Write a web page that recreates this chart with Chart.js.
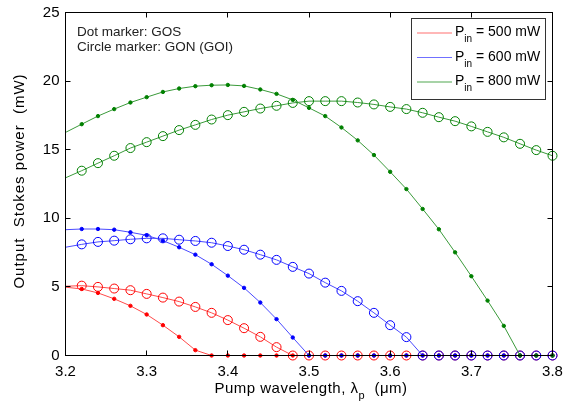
<!DOCTYPE html>
<html>
<head>
<meta charset="utf-8">
<script src="https://cdn.jsdelivr.net/npm/chart.js@4.4.0/dist/chart.umd.min.js"></script>
<style>
  html, body { margin: 0; padding: 0; background: #fff; }
</style>
</head>
<body>
<canvas id="stokes" width="564" height="409"></canvas>
<script>
// pump wavelength grid (um), one marker every 0.02
const lambdaP = [3.20, 3.22, 3.24, 3.26, 3.28, 3.30, 3.32, 3.34, 3.36, 3.38,
                 3.40, 3.42, 3.44, 3.46, 3.48, 3.50, 3.52, 3.54, 3.56, 3.58,
                 3.60, 3.62, 3.64, 3.66, 3.68, 3.70, 3.72, 3.74, 3.76, 3.78, 3.80];

// output Stokes power (mW) - GOS (dots) and GON/GOI (circles)
const gos500 = [4.98, 4.85, 4.56, 4.13, 3.62, 2.99, 2.21, 1.36, 0.39, 0,
                0, 0, 0, 0, 0, 0, 0, 0, 0, 0,
                0, 0, 0, 0, 0, 0, 0, 0, 0, 0, 0];
const gon500 = [5.05, 5.09, 5.00, 4.88, 4.76, 4.49, 4.22, 3.93, 3.54, 3.11,
                2.58, 1.99, 1.36, 0.61, 0, 0, 0, 0, 0, 0,
                0, 0, 0, 0, 0, 0, 0, 0, 0, 0, 0];
const gos600 = [9.17, 9.22, 9.22, 9.17, 8.98, 8.76, 8.37, 7.89, 7.35, 6.65,
                5.82, 4.93, 3.86, 2.65, 1.31, 0, 0, 0, 0, 0,
                0, 0, 0, 0, 0, 0, 0, 0, 0, 0, 0];
const gon600 = [7.89, 8.10, 8.28, 8.37, 8.47, 8.54, 8.54, 8.44, 8.35, 8.22,
                7.98, 7.71, 7.35, 6.97, 6.46, 5.97, 5.31, 4.71, 3.96, 3.11,
                2.21, 1.34, 0, 0, 0, 0, 0, 0, 0, 0, 0];
const gos800 = [16.26, 16.86, 17.45, 17.96, 18.44, 18.83, 19.21, 19.46, 19.63, 19.70,
                19.72, 19.65, 19.39, 19.07, 18.63, 18.05, 17.45, 16.62, 15.68, 14.61,
                13.39, 12.13, 10.68, 9.20, 7.52, 5.78, 4.00, 2.16, 0, 0, 0];
const gon800 = [12.95, 13.47, 14.02, 14.56, 15.12, 15.55, 15.99, 16.43, 16.81, 17.20,
                17.52, 17.76, 18.00, 18.20, 18.41, 18.54, 18.54, 18.54, 18.44, 18.30,
                18.12, 17.96, 17.69, 17.37, 17.08, 16.70, 16.30, 15.90, 15.43, 14.97, 14.56];

const xTicks = [3.2, 3.3, 3.4, 3.5, 3.6, 3.7, 3.8];
const yTicks = [0, 5, 10, 15, 20, 25];
const legendPowers = ['500', '600', '800'];

// marker colours and the softer line colours
const RED = ['#ff0000', '#ff4a4a'];
const BLUE = ['#0000ff', '#4a4aff'];
const GREEN = ['#008000', '#3a9a3a'];
const FONT = '"Liberation Sans", Arial, sans-serif';

const pts = arr => arr.map((v, i) => ({ x: lambdaP[i], y: v }));
// no marker on the first sample (sits on the left axis)
const radii = r => lambdaP.map((_, i) => i === 0 ? 0 : r);

function dotSet(data, col) {
  return {
    data: pts(data), borderColor: col[1], borderWidth: 1,
    pointRadius: radii(1.7), pointBackgroundColor: col[0], pointBorderColor: col[0],
    pointBorderWidth: 1, pointHoverRadius: 0, clip: false
  };
}
function ringSet(data, col) {
  return {
    data: pts(data), borderColor: col[1], borderWidth: 1,
    pointRadius: radii(4.5), pointBackgroundColor: 'transparent', pointBorderColor: col[0],
    pointBorderWidth: 1, pointHoverRadius: 0, clip: false
  };
}

// axes box, inward ticks, legend and the text labels
const decorations = {
  id: 'decorations',
  afterDatasetsDraw(chart) {
    const { ctx, chartArea: a, scales: { x, y } } = chart;
    ctx.save();
    ctx.strokeStyle = '#000';
    ctx.lineWidth = 1;
    ctx.strokeRect(a.left, a.top, a.right - a.left, a.bottom - a.top);
    ctx.beginPath();
    xTicks.forEach(v => {
      const px = Math.floor(x.getPixelForValue(v)) + 0.5;
      ctx.moveTo(px, a.bottom); ctx.lineTo(px, a.bottom - 5);
      ctx.moveTo(px, a.top); ctx.lineTo(px, a.top + 5);
    });
    yTicks.forEach(v => {
      const py = Math.floor(y.getPixelForValue(v)) + 0.5;
      ctx.moveTo(a.left, py); ctx.lineTo(a.left + 5, py);
      ctx.moveTo(a.right, py); ctx.lineTo(a.right - 5, py);
    });
    ctx.stroke();

    // legend
    ctx.fillStyle = '#fff';
    ctx.fillRect(411.5, 18.5, 134, 81);
    ctx.strokeStyle = '#333';
    ctx.strokeRect(411.5, 18.5, 134, 81);
    const cols = ['#ff7070', '#7070ff', '#50a850'];
    legendPowers.forEach((p, i) => {
      const base = 36 + i * 24.5;
      ctx.strokeStyle = cols[i];
      ctx.lineWidth = 1.2;
      ctx.beginPath();
      ctx.moveTo(417, base - 3); ctx.lineTo(452, base - 3);
      ctx.stroke();
      ctx.fillStyle = '#000';
      ctx.textBaseline = 'alphabetic';
      ctx.textAlign = 'left';
      ctx.font = '14px ' + FONT;
      ctx.fillText('P', 455, base);
      let xx = 455 + ctx.measureText('P').width;
      ctx.font = '10px ' + FONT;
      ctx.fillText('in', xx, base + 6);
      xx += ctx.measureText('in').width;
      ctx.font = '14px ' + FONT;
      ctx.fillText(' = ' + p + ' mW', xx, base);
    });

    // marker key text
    ctx.fillStyle = '#222';
    ctx.font = '13.5px ' + FONT;
    ctx.fillText('Dot marker: GOS', 77, 36);
    ctx.fillText('Circle marker: GON (GOI)', 77, 50.7);

    // x axis title with subscript
    ctx.fillStyle = '#000';
    ctx.letterSpacing = '0.5px';
    const parts = [['Pump wavelength, ', 15, 0], ['\u03bb', 15, 0], ['p', 11, 6], ['  (\u03bcm)', 15, 0]];
    let total = 0;
    parts.forEach(([t, s]) => { ctx.font = s + 'px ' + FONT; total += ctx.measureText(t).width; });
    let tx = 311 - total / 2;
    parts.forEach(([t, s, dy]) => {
      ctx.font = s + 'px ' + FONT;
      ctx.fillText(t, tx, 393.3 + dy);
      tx += ctx.measureText(t).width;
    });

    // y axis title
    ctx.letterSpacing = '1px';
    ctx.translate(24, 181);
    ctx.rotate(-Math.PI / 2);
    ctx.textAlign = 'center';
    ctx.font = '15px ' + FONT;
    ctx.fillText('Output  Stokes power  (mW)', 0, 0);
    ctx.restore();
  }
};

new Chart(document.getElementById('stokes'), {
  type: 'line',
  data: {
    datasets: [
      dotSet(gos800, GREEN), ringSet(gon800, GREEN),
      dotSet(gos600, BLUE), ringSet(gon600, BLUE),
      dotSet(gos500, RED), ringSet(gon500, RED)
    ]
  },
  options: {
    responsive: false,
    animation: false,
    events: [],
    layout: { padding: { top: 12.5, right: 11.5, left: 0, bottom: 0 } },
    plugins: { legend: { display: false }, tooltip: { enabled: false } },
    scales: {
      x: {
        type: 'linear', min: 3.2, max: 3.8,
        grid: { display: false, drawTicks: false }, border: { display: false },
        afterBuildTicks: s => { s.ticks = xTicks.map(v => ({ value: v })); },
        afterFit: s => { s.height = 53.5; s.paddingLeft = 0; s.paddingRight = 0; },
        ticks: { color: '#000', padding: 7, maxRotation: 0, font: { family: FONT, size: 15 },
                 callback: v => v.toFixed(1) }
      },
      y: {
        min: 0, max: 25,
        grid: { display: false, drawTicks: false }, border: { display: false },
        afterBuildTicks: s => { s.ticks = yTicks.map(v => ({ value: v })); },
        afterFit: s => { s.width = 65.5; s.paddingTop = 0; s.paddingBottom = 0; },
        ticks: { color: '#000', padding: 6, font: { family: FONT, size: 15 } }
      }
    }
  },
  plugins: [decorations]
});
</script>
</body>
</html>
